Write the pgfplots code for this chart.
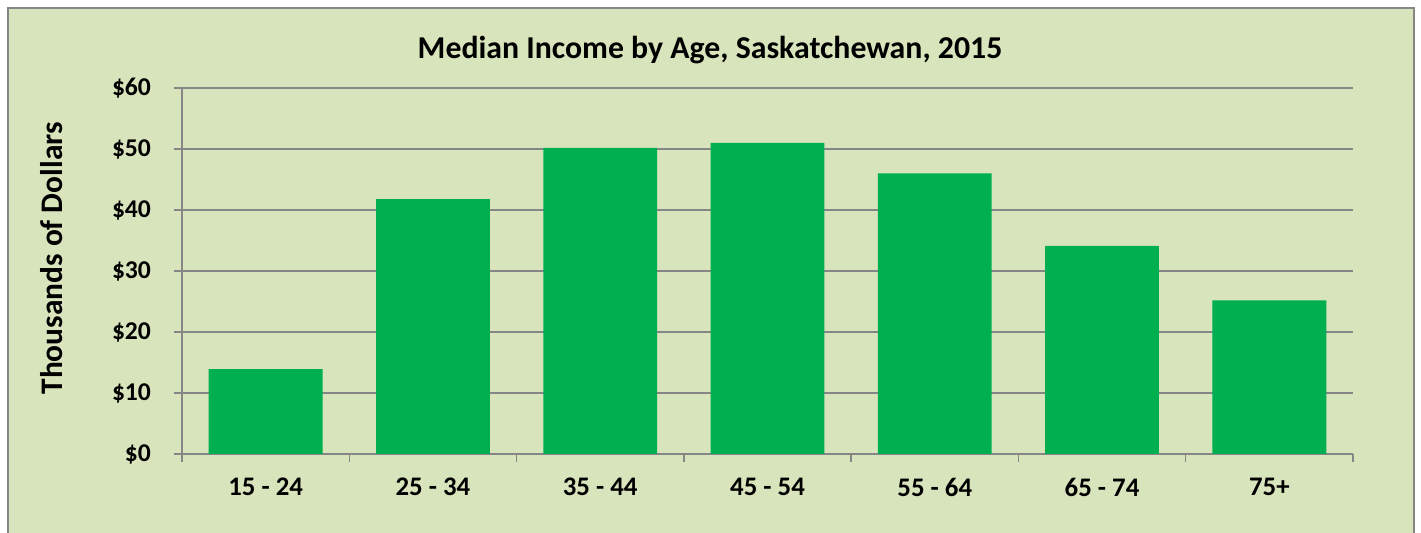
\documentclass[border=0pt]{standalone}
\usepackage{pgfplots}
\pgfplotsset{compat=1.18}
\usepackage{fontspec}
\setmainfont{Carlito}
\definecolor{bgc}{HTML}{D8E4BC}
\definecolor{barc}{HTML}{00B050}
\definecolor{grayc}{HTML}{868686}
\begin{document}
\begin{tikzpicture}
\useasboundingbox (0pt,0pt) rectangle (710.5pt,266.5pt);
\fill[bgc] (4pt,-10pt) rectangle (707pt,262.5pt);
\draw[grayc, line width=1pt] (4pt,-10pt) -- (4pt,262.5pt) -- (707pt,262.5pt) -- (707pt,-10pt);
\node[anchor=base, font=\fontsize{15.9}{19}\selectfont\bfseries] at (355pt,237pt) {Median Income by Age, Saskatchewan, 2015};
\node[anchor=base, rotate=90, font=\fontsize{15.7}{18}\selectfont\bfseries] at (31.5pt,137.3pt) {Thousands of Dollars};
\begin{axis}[
  at={(91pt,39.5pt)}, anchor=south west,
  scale only axis, width=585.5pt, height=183pt,
  xmin=-0.5, xmax=6.5, ymin=0, ymax=60,
  axis x line*=bottom, axis y line*=left,
  axis line style={grayc, line width=0.75pt, -},
  ytick={0,10,...,60},
  yticklabels={\$0,\$10,\$20,\$30,\$40,\$50,\$60},
  xtick={0,...,6},
  xticklabels={15 - 24,25 - 34,35 - 44,45 - 54,55 - 64,65 - 74,75+},
  tick align=outside,
  major tick length=4pt,
  y tick style={grayc, line width=0.75pt},
  x tick style={draw=none},
  extra x ticks={-0.5,0.5,...,6.5},
  extra x tick labels={},
  extra x tick style={tick align=outside, major tick length=4pt, x tick style={draw=grayc, line width=0.75pt}},
  ymajorgrids,
  grid style={grayc, line width=0.75pt},
  yticklabel style={font=\fontsize{12.8}{14}\selectfont\bfseries, xshift=-8pt},
  xticklabel style={font=\fontsize{13.4}{15}\selectfont\bfseries, yshift=-4.5pt},
]
\addplot[ybar, bar width=56.9pt, fill=barc, draw=none] coordinates {
(0,13.9) (1,41.8) (2,50.2) (3,51.0) (4,46.0) (5,34.1) (6,25.2)};
\end{axis}
\end{tikzpicture}
\end{document}
